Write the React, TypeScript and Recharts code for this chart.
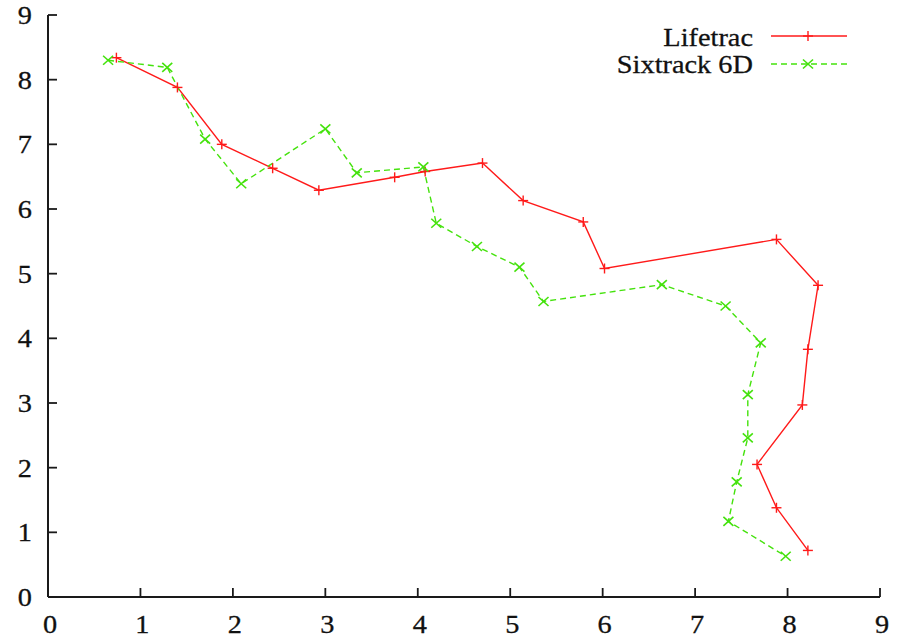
import React from "react";
import { LineChart, Line, XAxis, YAxis, Legend } from "recharts";

const lifetracX = [0.74, 1.4, 1.88, 2.43, 2.93, 3.75, 4.08, 4.7, 5.14, 5.79, 6.02, 7.88, 8.33, 8.22, 8.16, 7.67, 7.88, 8.22];
const lifetracY = [8.34, 7.88, 7.0, 6.63, 6.29, 6.49, 6.58, 6.71, 6.13, 5.8, 5.08, 5.53, 4.82, 3.83, 2.97, 2.05, 1.38, 0.72];

const sixtrackX = [0.65, 1.29, 1.7, 2.09, 3.0, 3.34, 4.06, 4.2, 4.64, 5.1, 5.36, 6.64, 7.33, 7.71, 7.57, 7.57, 7.45, 7.36, 7.98];
const sixtrackY = [8.3, 8.19, 7.08, 6.39, 7.24, 6.56, 6.65, 5.78, 5.42, 5.1, 4.57, 4.83, 4.5, 3.93, 3.13, 2.46, 1.78, 1.17, 0.63];

const xTicks = [0, 1, 2, 3, 4, 5, 6, 7, 8, 9];
const yTicks = [0, 1, 2, 3, 4, 5, 6, 7, 8, 9];

const seriesNames = ["Lifetrac", "Sixtrack 6D"];

const RED = "#ff1a1a";
const GREEN = "#44e20c";
const AXIS = "#1a1a1a";
const FONT = "'Liberation Serif', 'Times New Roman', serif";
const FS = 26;
const TICK = 9;
const SX = 1.09;

const textStyle: React.CSSProperties = {
  fontFamily: FONT,
  fontSize: FS,
  fill: "#111",
  stroke: "#111",
  strokeWidth: 0.3,
};

const lifetracData = lifetracX.map((x, i) => ({ x, y: lifetracY[i] }));
const sixtrackData = sixtrackX.map((x, i) => ({ x, y: sixtrackY[i] }));

const Label = ({ x, y, anchor, children }: any) => (
  <text transform={`translate(${x},${y}) scale(${SX},1)`} x={0} y={0} textAnchor={anchor} style={textStyle}>
    {children}
  </text>
);

const Plus = ({ cx, cy, color }: any) => (
  <g>
    <line x1={cx - 5} y1={cy} x2={cx + 5} y2={cy} stroke={color} strokeWidth={1.4} />
    <line x1={cx} y1={cy - 5} x2={cx} y2={cy + 5} stroke={color} strokeWidth={1.4} />
  </g>
);

const Cross = ({ cx, cy, color }: any) => (
  <g>
    <line x1={cx - 5} y1={cy - 4.5} x2={cx + 5} y2={cy + 4.5} stroke={color} strokeWidth={1.6} />
    <line x1={cx - 5} y1={cy + 4.5} x2={cx + 5} y2={cy - 4.5} stroke={color} strokeWidth={1.6} />
  </g>
);

const BottomTick = (props: any) => {
  const { x, y, payload } = props;
  return (
    <g>
      <line x1={x} y1={y} x2={x} y2={y - TICK} stroke={AXIS} strokeWidth={1.8} />
      <Label x={x + 2} y={y + 36} anchor="middle">
        {payload.value}
      </Label>
    </g>
  );
};

const LeftTick = (props: any) => {
  const { x, y, payload } = props;
  return (
    <g>
      <line x1={x} y1={y} x2={x + TICK} y2={y} stroke={AXIS} strokeWidth={1.8} />
      <Label x={x - 16} y={y + 9} anchor="end">
        {payload.value}
      </Label>
    </g>
  );
};

const TopTick = (props: any) => {
  const { x, y } = props;
  return <line x1={x} y1={y} x2={x} y2={y + TICK} stroke={AXIS} strokeWidth={1.8} />;
};

const RightTick = (props: any) => {
  const { x, y } = props;
  return <line x1={x} y1={y} x2={x - TICK} y2={y} stroke={AXIS} strokeWidth={1.8} />;
};

const renderLegend = () => (
  <svg width={901} height={100} style={{ display: "block" }}>
    <Label x={753} y={46} anchor="end">
      {seriesNames[0]}
    </Label>
    <line x1={771} y1={36} x2={847} y2={36} stroke={RED} strokeWidth={1.4} />
    <Plus cx={808} cy={36} color={RED} />
    <Label x={753} y={73} anchor="end">
      {seriesNames[1]}
    </Label>
    <line x1={771} y1={64} x2={847} y2={64} stroke={GREEN} strokeWidth={1.4} strokeDasharray="6 4" />
    <Cross cx={808} cy={64} color={GREEN} />
  </svg>
);

export default function App() {
  return (
    <div style={{ position: "absolute", left: 0, top: 0, width: 901, height: 636, background: "#fff" }}>
      <LineChart width={901} height={636} margin={{ top: 15, right: 21, left: 0, bottom: 0 }}>
        <XAxis
          xAxisId="b"
          type="number"
          dataKey="x"
          domain={[0, 9]}
          ticks={xTicks}
          allowDataOverflow
          height={39}
          tickSize={0}
          tickMargin={0}
          tickLine={false}
          axisLine={{ stroke: AXIS, strokeWidth: 2 }}
          tick={<BottomTick />}
        />
        <XAxis
          xAxisId="t"
          orientation="top"
          type="number"
          dataKey="x"
          domain={[0, 9]}
          ticks={xTicks}
          allowDataOverflow
          height={0}
          tickSize={0}
          tickMargin={0}
          tickLine={false}
          axisLine={{ stroke: AXIS, strokeWidth: 2 }}
          tick={<TopTick />}
        />
        <YAxis
          yAxisId="l"
          type="number"
          domain={[0, 9]}
          ticks={yTicks}
          allowDataOverflow
          width={48}
          tickSize={0}
          tickMargin={0}
          tickLine={false}
          axisLine={{ stroke: AXIS, strokeWidth: 2 }}
          tick={<LeftTick />}
        />
        <YAxis
          yAxisId="r"
          orientation="right"
          type="number"
          domain={[0, 9]}
          ticks={yTicks}
          allowDataOverflow
          width={0}
          tickSize={0}
          tickMargin={0}
          tickLine={false}
          axisLine={{ stroke: AXIS, strokeWidth: 2 }}
          tick={<RightTick />}
        />
        <Legend
          layout="vertical"
          align="center"
          verticalAlign="middle"
          wrapperStyle={{ left: 0, top: 0, width: 901, height: 100, pointerEvents: "none" }}
          content={renderLegend}
        />
        <Line
          xAxisId="b"
          yAxisId="l"
          data={lifetracData}
          dataKey="y"
          name={seriesNames[0]}
          type="linear"
          stroke={RED}
          strokeWidth={1.4}
          isAnimationActive={false}
          dot={(p: any) => <Plus key={`l${p.index}`} cx={p.cx} cy={p.cy} color={RED} />}
          activeDot={false}
        />
        <Line
          xAxisId="b"
          yAxisId="l"
          data={sixtrackData}
          dataKey="y"
          name={seriesNames[1]}
          type="linear"
          stroke={GREEN}
          strokeWidth={1.4}
          strokeDasharray="6 4"
          isAnimationActive={false}
          dot={(p: any) => <Cross key={`s${p.index}`} cx={p.cx} cy={p.cy} color={GREEN} />}
          activeDot={false}
        />
      </LineChart>
    </div>
  );
}
